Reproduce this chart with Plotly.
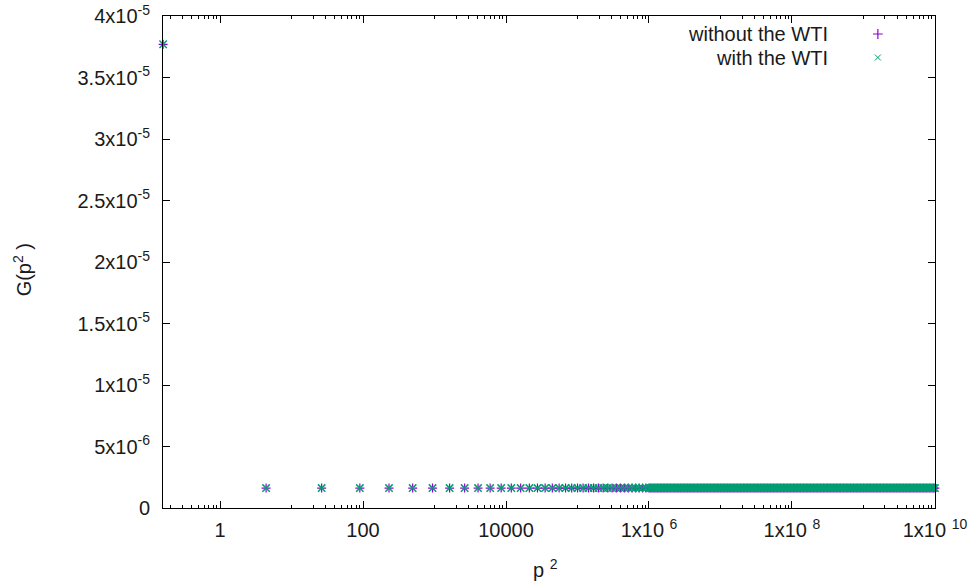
import plotly.graph_objects as go

# ---- data ----
# individually resolved points (small p^2)
p2_resolved = [
    0.16, 4.41, 26.4, 90.3, 231, 495, 938, 1627, 2640, 4065, 6003, 8561,
    11861, 16035, 21224, 27582, 35268, 44462, 55344, 68112, 82974,
    100140, 119840, 142320, 167820, 196600, 228930, 265100, 305400,
    350120, 399580, 454100, 514020, 579690, 651460, 729690, 814760, 907070,
]
# densely packed points forming the solid band (large p^2)
p2_band = [
    1.000e6, 1.047e6, 1.096e6, 1.148e6, 1.202e6, 1.259e6, 1.318e6, 1.380e6,
    1.445e6, 1.514e6, 1.585e6, 1.660e6, 1.738e6, 1.820e6, 1.905e6, 1.995e6,
    2.089e6, 2.188e6, 2.291e6, 2.399e6, 2.512e6, 2.630e6, 2.754e6, 2.884e6,
    3.020e6, 3.162e6, 3.311e6, 3.467e6, 3.631e6, 3.802e6, 3.981e6, 4.169e6,
    4.365e6, 4.571e6, 4.786e6, 5.012e6, 5.248e6, 5.495e6, 5.754e6, 6.026e6,
    6.310e6, 6.607e6, 6.918e6, 7.244e6, 7.586e6, 7.943e6, 8.318e6, 8.710e6,
    9.120e6, 9.550e6,
    1.000e7, 1.047e7, 1.096e7, 1.148e7, 1.202e7, 1.259e7, 1.318e7, 1.380e7,
    1.445e7, 1.514e7, 1.585e7, 1.660e7, 1.738e7, 1.820e7, 1.905e7, 1.995e7,
    2.089e7, 2.188e7, 2.291e7, 2.399e7, 2.512e7, 2.630e7, 2.754e7, 2.884e7,
    3.020e7, 3.162e7, 3.311e7, 3.467e7, 3.631e7, 3.802e7, 3.981e7, 4.169e7,
    4.365e7, 4.571e7, 4.786e7, 5.012e7, 5.248e7, 5.495e7, 5.754e7, 6.026e7,
    6.310e7, 6.607e7, 6.918e7, 7.244e7, 7.586e7, 7.943e7, 8.318e7, 8.710e7,
    9.120e7, 9.550e7,
    1.000e8, 1.047e8, 1.096e8, 1.148e8, 1.202e8, 1.259e8, 1.318e8, 1.380e8,
    1.445e8, 1.514e8, 1.585e8, 1.660e8, 1.738e8, 1.820e8, 1.905e8, 1.995e8,
    2.089e8, 2.188e8, 2.291e8, 2.399e8, 2.512e8, 2.630e8, 2.754e8, 2.884e8,
    3.020e8, 3.162e8, 3.311e8, 3.467e8, 3.631e8, 3.802e8, 3.981e8, 4.169e8,
    4.365e8, 4.571e8, 4.786e8, 5.012e8, 5.248e8, 5.495e8, 5.754e8, 6.026e8,
    6.310e8, 6.607e8, 6.918e8, 7.244e8, 7.586e8, 7.943e8, 8.318e8, 8.710e8,
    9.120e8, 9.550e8,
    1.000e9, 1.047e9, 1.096e9, 1.148e9, 1.202e9, 1.259e9, 1.318e9, 1.380e9,
    1.445e9, 1.514e9, 1.585e9, 1.660e9, 1.738e9, 1.820e9, 1.905e9, 1.995e9,
    2.089e9, 2.188e9, 2.291e9, 2.399e9, 2.512e9, 2.630e9, 2.754e9, 2.884e9,
    3.020e9, 3.162e9, 3.311e9, 3.467e9, 3.631e9, 3.802e9, 3.981e9, 4.169e9,
    4.365e9, 4.571e9, 4.786e9, 5.012e9, 5.248e9, 5.495e9, 5.754e9, 6.026e9,
    6.310e9, 6.607e9, 6.918e9, 7.244e9, 7.586e9, 7.943e9, 8.318e9, 8.710e9,
    9.120e9, 9.550e9, 1.0e10,
]
p2_values = p2_resolved + p2_band

g_first = 3.77e-5          # G at the smallest p^2
g_plateau = 1.62e-6        # G for every other p^2
g_without_wti = [g_first] + [g_plateau] * (len(p2_values) - 1)
g_with_wti = [g_first] + [g_plateau] * (len(p2_values) - 1)

series_names = ["without the WTI", "with the WTI"]

x_tick_vals = [1, 100, 1e4, 1e6, 1e8, 1e10]
x_tick_text = ["1", "100", "10000", "1x10 <sup>6</sup>", "1x10 <sup>8</sup>",
               "1x10 <sup>10</sup>"]
x_minor_vals = [0.2, 0.3, 0.4, 0.5, 0.6, 0.7, 0.8, 0.9,
                10, 20, 30, 40, 50, 60, 70, 80, 90,
                1e3, 2e3, 3e3, 4e3, 5e3, 6e3, 7e3, 8e3, 9e3,
                1e5, 2e5, 3e5, 4e5, 5e5, 6e5, 7e5, 8e5, 9e5,
                1e7, 2e7, 3e7, 4e7, 5e7, 6e7, 7e7, 8e7, 9e7,
                1e9, 2e9, 3e9, 4e9, 5e9, 6e9, 7e9, 8e9, 9e9]
y_tick_vals = [0, 5e-6, 1e-5, 1.5e-5, 2e-5, 2.5e-5, 3e-5, 3.5e-5, 4e-5]
y_tick_text = ["0", "5x10<sup>-6</sup>", "1x10<sup>-5</sup>", "1.5x10<sup>-5</sup>",
               "2x10<sup>-5</sup>", "2.5x10<sup>-5</sup>", "3x10<sup>-5</sup>",
               "3.5x10<sup>-5</sup>", "4x10<sup>-5</sup>"]

PURPLE = "#9400D3"
GREEN = "#009E73"
FONT = "Liberation Sans, Arial, sans-serif"
TXT = "#1a1a1a"

fig = go.Figure()
fig.add_trace(go.Scatter(
    x=p2_values, y=g_without_wti, mode="markers", name=series_names[0],
    marker=dict(symbol="cross-thin", size=6.4, line=dict(color=PURPLE, width=1.2)),
    cliponaxis=False, showlegend=False))
fig.add_trace(go.Scatter(
    x=p2_values, y=g_with_wti, mode="markers", name=series_names[1],
    marker=dict(symbol="x-thin", size=7.4, line=dict(color=GREEN, width=1.5)),
    cliponaxis=False, showlegend=False))

# legend keys (gnuplot style: text then symbol), on a hidden unit overlay axis
fig.add_trace(go.Scatter(
    x=[0.926], y=[0.9634], mode="markers", xaxis="x2", yaxis="y2",
    marker=dict(symbol="cross-thin", size=7, line=dict(color=PURPLE, width=1.2)),
    showlegend=False, hoverinfo="skip", cliponaxis=False))
fig.add_trace(go.Scatter(
    x=[0.926], y=[0.9156], mode="markers", xaxis="x2", yaxis="y2",
    marker=dict(symbol="x-thin", size=6, line=dict(color=GREEN, width=1.0)),
    showlegend=False, hoverinfo="skip", cliponaxis=False))

annotations = [
    dict(text=series_names[0], x=0.864, y=0.9634, xref="paper", yref="paper",
         xanchor="right", yanchor="middle", showarrow=False,
         font=dict(family=FONT, size=20, color=TXT)),
    dict(text=series_names[1], x=0.864, y=0.9156, xref="paper", yref="paper",
         xanchor="right", yanchor="middle", showarrow=False,
         font=dict(family=FONT, size=20, color=TXT)),
    dict(text="p <sup>2</sup>", x=0.495, y=-0.122, xref="paper", yref="paper",
         xanchor="center", yanchor="middle", showarrow=False,
         font=dict(family=FONT, size=20, color=TXT)),
    dict(text="G(p<sup>2</sup> )", x=-0.182, y=0.484, xref="paper", yref="paper",
         xanchor="center", yanchor="middle", showarrow=False, textangle=-90,
         font=dict(family=FONT, size=20, color=TXT)),
]

fig.update_layout(
    width=973, height=585,
    margin=dict(l=163, r=38, t=16, b=77, autoexpand=False),
    paper_bgcolor="white", plot_bgcolor="white",
    font=dict(family=FONT, size=20, color=TXT),
    annotations=annotations,
    xaxis=dict(
        type="log", range=[-0.7975, 10.0005], automargin=False,
        tickmode="array", tickvals=x_tick_vals, ticktext=x_tick_text,
        ticks="inside", ticklen=7, tickwidth=1, tickcolor="black",
        minor=dict(tickmode="array", tickvals=x_minor_vals, ticks="inside",
                   ticklen=3, tickwidth=1, tickcolor="black", showgrid=False),
        showline=True, linecolor="black", linewidth=1, mirror="allticks",
        showgrid=False, zeroline=False, ticklabelstandoff=4,
        ticklabeloverflow="allow",
        tickfont=dict(family=FONT, size=20, color=TXT),
    ),
    yaxis=dict(
        range=[0, 4e-5], automargin=False,
        tickmode="array", tickvals=y_tick_vals, ticktext=y_tick_text,
        ticks="inside", ticklen=7, tickwidth=1, tickcolor="black",
        showline=True, linecolor="black", linewidth=1, mirror="allticks",
        showgrid=False, zeroline=False, ticklabelstandoff=8,
        ticklabeloverflow="allow",
        tickfont=dict(family=FONT, size=20, color=TXT),
    ),
    xaxis2=dict(overlaying="x", range=[0, 1], visible=False, anchor="y2"),
    yaxis2=dict(overlaying="y", range=[0, 1], visible=False, anchor="x2"),
)

# remove the default 8 px page margin so the figure fills the window exactly
fig.write_html("out.html", config={"displayModeBar": False},
               post_script="document.body.style.margin='0';")
